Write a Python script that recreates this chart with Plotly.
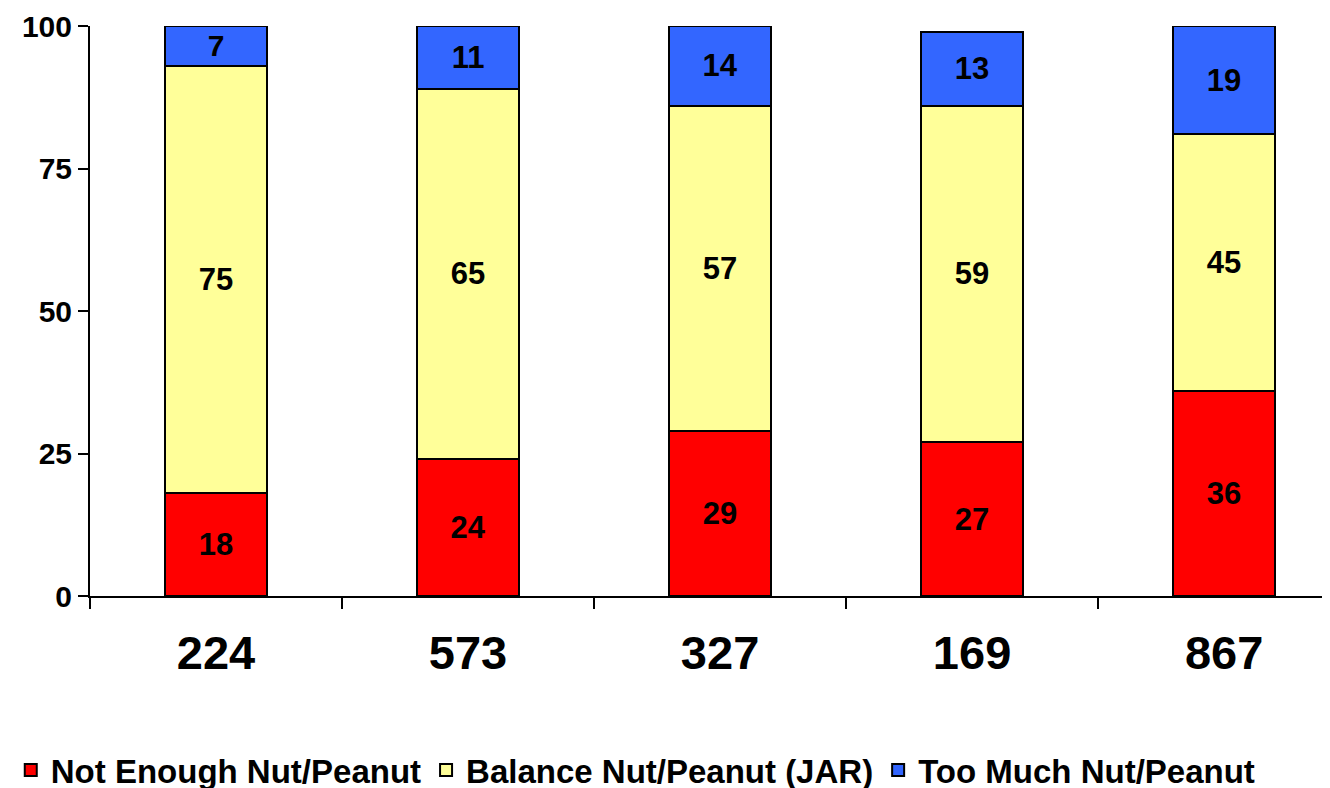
import plotly.graph_objects as go

# data
categories = ["224", "573", "327", "169", "867"]
not_enough = [18, 24, 29, 27, 36]
balance = [75, 65, 57, 59, 45]
too_much = [7, 11, 14, 13, 19]
series_names = ["Not Enough Nut/Peanut", "Balance Nut/Peanut (JAR)", "Too Much Nut/Peanut"]
colors = ["#FF0000", "#FFFF99", "#3366FF"]
y_ticks = [0, 25, 50, 75, 100]

FONT = "Liberation Sans, Arial, sans-serif"
xpos = list(range(len(categories)))

fig = go.Figure()
for name, vals, col in zip(series_names, [not_enough, balance, too_much], colors):
    fig.add_trace(go.Bar(
        x=xpos, y=vals, name=name,
        marker=dict(color=col, line=dict(color="black", width=2)),
        width=0.405,
        text=vals, textposition="inside", insidetextanchor="middle",
        textfont=dict(family=FONT, size=31, color="black", weight="bold"),
        textangle=0,
    ))

# invisible trace so the boundary tick axis gets drawn
fig.add_trace(go.Scatter(x=[-0.5, 4.5], y=[0, 0], xaxis="x2", mode="lines",
                         line=dict(width=0), showlegend=False, hoverinfo="skip"))

# page body adds 8px offset, so margins are shifted accordingly
xrange = [-0.5, 4.452]
fig.update_layout(
    barmode="stack",
    width=1330, height=788,
    plot_bgcolor="white", paper_bgcolor="white",
    margin=dict(l=82, r=0, t=18, b=200),
    font=dict(family=FONT, color="black"),
    xaxis=dict(range=xrange, tickvals=xpos, ticktext=categories, ticks="",
               showline=True, linecolor="black", linewidth=2, showgrid=False,
               zeroline=False, ticklabelstandoff=15, automargin=False,
               tickfont=dict(size=47, weight="bold")),
    xaxis2=dict(range=xrange, overlaying="x", anchor="y", side="bottom",
                tickvals=[-0.5, 0.5, 1.5, 2.5, 3.5, 4.5], showticklabels=False,
                ticks="outside", ticklen=12, tickwidth=2, tickcolor="black",
                showgrid=False, zeroline=False, showline=False, automargin=False),
    yaxis=dict(range=[0, 100], tickvals=y_ticks, ticks="outside", ticklen=10,
               tickwidth=2, tickcolor="black", showline=True, linecolor="black",
               linewidth=2, showgrid=False, zeroline=False, automargin=False,
               ticklabeloverflow="allow",
               tickfont=dict(size=30, weight="bold")),
    legend=dict(orientation="h", x=0.472, xanchor="center", xref="container",
                y=0.033, yanchor="middle", yref="container",
                font=dict(size=33, weight="bold"), traceorder="normal",
                itemwidth=30),
    showlegend=True,
)

fig.write_html("out.html")
